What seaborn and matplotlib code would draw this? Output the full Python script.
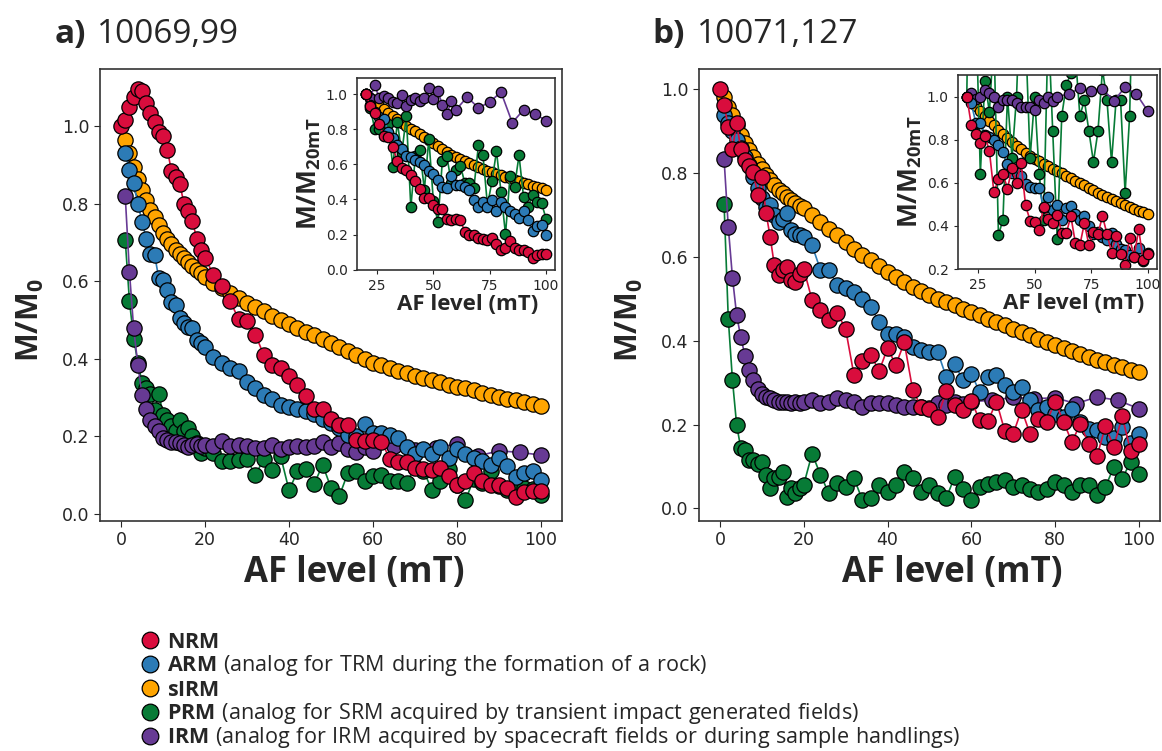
import numpy as np
import pandas as pd
import matplotlib
matplotlib.use("Agg")
import matplotlib.pyplot as plt
from matplotlib.lines import Line2D
import seaborn as sns

# AF steps (mT)
af_nrm = list(range(0, 21)) + list(range(22, 101, 2))
af_std = list(range(1, 21)) + list(range(22, 101, 2))
af_irm = list(range(1, 21)) + list(range(22, 61, 2)) + list(range(65, 101, 5))

# ---- sample 10069,99 ----
nrm_a = [1.0, 1.015, 1.05, 1.075, 1.095, 1.09, 1.06, 1.035, 1.01, 0.985, 0.975,
         0.94, 0.885, 0.87, 0.85, 0.80, 0.78, 0.755, 0.71, 0.68, 0.66,
         0.617, 0.587, 0.548, 0.502, 0.498, 0.462, 0.409, 0.383, 0.376, 0.356,
         0.333, 0.304, 0.271, 0.271, 0.244, 0.228, 0.228, 0.191, 0.188, 0.191,
         0.185, 0.142, 0.132, 0.132, 0.119, 0.116, 0.112, 0.119, 0.096, 0.073,
         0.083, 0.106, 0.083, 0.073, 0.073, 0.066, 0.043, 0.056, 0.059, 0.059]
arm_a = [0.93, 0.886, 0.853, 0.80, 0.753, 0.71, 0.671, 0.667, 0.607, 0.603,
         0.577, 0.547, 0.538, 0.504, 0.491, 0.482, 0.478, 0.448, 0.44, 0.431,
         0.405, 0.388, 0.375, 0.369, 0.339, 0.323, 0.306, 0.297, 0.28, 0.276,
         0.269, 0.265, 0.257, 0.243, 0.235, 0.22, 0.202, 0.2, 0.231, 0.208,
         0.208, 0.204, 0.196, 0.171, 0.155, 0.167, 0.155, 0.171, 0.143, 0.167,
         0.155, 0.143, 0.136, 0.126, 0.143, 0.122, 0.094, 0.106, 0.11, 0.086]
sirm_a = [0.965, 0.93, 0.895, 0.865, 0.835, 0.81, 0.785, 0.765, 0.745, 0.725,
          0.71, 0.695, 0.68, 0.67, 0.66, 0.65, 0.64, 0.63, 0.62, 0.61,
          0.596, 0.583, 0.57, 0.557, 0.545, 0.533, 0.522, 0.511, 0.5, 0.49,
          0.48, 0.47, 0.46, 0.45, 0.44, 0.43, 0.42, 0.41, 0.4, 0.39,
          0.383, 0.376, 0.369, 0.362, 0.355, 0.35, 0.344, 0.339, 0.333, 0.328,
          0.323, 0.318, 0.312, 0.307, 0.302, 0.297, 0.292, 0.287, 0.283, 0.278]
prm_a = [0.706, 0.549, 0.452, 0.39, 0.338, 0.324, 0.31, 0.268, 0.31, 0.255,
         0.242, 0.225, 0.212, 0.242, 0.212, 0.22, 0.2, 0.182, 0.156, 0.169,
         0.156, 0.135, 0.135, 0.139, 0.14, 0.099, 0.142, 0.112, 0.148, 0.06,
         0.109, 0.115, 0.077, 0.126, 0.066, 0.046, 0.105, 0.109, 0.083, 0.096,
         0.1, 0.083, 0.083, 0.079, 0.12, 0.11, 0.062, 0.085, 0.114, 0.075,
         0.034, 0.09, 0.08, 0.11, 0.07, 0.06, 0.072, 0.065, 0.064, 0.049]
irm_a = [0.819, 0.624, 0.478, 0.384, 0.306, 0.27, 0.242, 0.225, 0.212, 0.195,
         0.19, 0.186, 0.184, 0.182, 0.178, 0.173, 0.178, 0.18, 0.175, 0.178,
         0.174, 0.187, 0.174, 0.176, 0.174, 0.17, 0.169, 0.177, 0.166, 0.172,
         0.174, 0.171, 0.174, 0.184, 0.173, 0.181, 0.167, 0.158, 0.171, 0.162,
         0.175, 0.164, 0.17, 0.18, 0.149, 0.162, 0.158, 0.151]

# ---- sample 10071,127 ----
nrm_b = [1.0, 0.963, 0.911, 0.859, 0.919, 0.857, 0.831, 0.817, 0.803, 0.748, 0.79,
         0.706, 0.648, 0.58, 0.556, 0.568, 0.576, 0.546, 0.54, 0.56, 0.572,
         0.497, 0.473, 0.45, 0.467, 0.428, 0.318, 0.352, 0.367, 0.328, 0.382,
         0.343, 0.396, 0.283, 0.243, 0.238, 0.218, 0.28, 0.246, 0.236, 0.257,
         0.21, 0.209, 0.255, 0.184, 0.178, 0.236, 0.178, 0.213, 0.207, 0.255,
         0.207, 0.158, 0.202, 0.154, 0.125, 0.196, 0.147, 0.22, 0.137, 0.154]
arm_b = [0.94, 0.92, 0.90, 0.88, 0.86, 0.84, 0.82, 0.792, 0.764, 0.74,
         0.72, 0.724, 0.70, 0.684, 0.69, 0.704, 0.664, 0.656, 0.652, 0.648,
         0.628, 0.569, 0.57, 0.533, 0.525, 0.517, 0.501, 0.481, 0.445, 0.417,
         0.417, 0.409, 0.385, 0.377, 0.373, 0.373, 0.314, 0.345, 0.306, 0.321,
         0.278, 0.314, 0.318, 0.294, 0.278, 0.29, 0.258, 0.234, 0.242, 0.226,
         0.218, 0.238, 0.206, 0.19, 0.186, 0.171, 0.167, 0.194, 0.155, 0.178]
sirm_b = [0.982, 0.959, 0.939, 0.915, 0.891, 0.873, 0.855, 0.839, 0.823, 0.811,
          0.796, 0.784, 0.772, 0.761, 0.752, 0.744, 0.736, 0.728, 0.722, 0.716,
          0.70, 0.684, 0.668, 0.652, 0.636, 0.62, 0.605, 0.593, 0.578, 0.565,
          0.553, 0.541, 0.529, 0.519, 0.509, 0.501, 0.493, 0.485, 0.477, 0.469,
          0.461, 0.453, 0.445, 0.437, 0.429, 0.421, 0.413, 0.405, 0.397, 0.389,
          0.382, 0.375, 0.368, 0.361, 0.355, 0.349, 0.343, 0.337, 0.331, 0.326]
prm_b = [0.726, 0.453, 0.306, 0.199, 0.143, 0.139, 0.115, 0.115, 0.107, 0.111,
         0.08, 0.048, 0.072, 0.076, 0.088, 0.028, 0.048, 0.036, 0.048, 0.056,
         0.131, 0.08, 0.036, 0.06, 0.052, 0.072, 0.02, 0.024, 0.056, 0.04,
         0.056, 0.088, 0.072, 0.04, 0.056, 0.036, 0.024, 0.075, 0.047, 0.019,
         0.051, 0.059, 0.062, 0.067, 0.051, 0.055, 0.047, 0.039, 0.047, 0.063,
         0.055, 0.039, 0.055, 0.055, 0.031, 0.051, 0.099, 0.071, 0.111, 0.083]
irm_b = [0.833, 0.672, 0.551, 0.461, 0.408, 0.364, 0.33, 0.306, 0.286, 0.274,
         0.267, 0.263, 0.259, 0.255, 0.255, 0.255, 0.252, 0.255, 0.252, 0.255,
         0.259, 0.252, 0.255, 0.263, 0.259, 0.255, 0.243, 0.251, 0.251, 0.251,
         0.247, 0.243, 0.243, 0.243, 0.239, 0.251, 0.247, 0.254, 0.25, 0.255,
         0.258, 0.265, 0.262, 0.264, 0.25, 0.266, 0.258, 0.238]

colors = {"NRM": "#D90D3D", "ARM": "#2C7BB6", "sIRM": "#FFA500",
          "PRM": "#077B36", "IRM": "#673A94"}
draw_order = ["sIRM", "PRM", "IRM", "ARM", "NRM"]
legend_order = ["NRM", "ARM", "sIRM", "PRM", "IRM"]
legend_notes = {"NRM": "", "ARM": " (analog for TRM during the formation of a rock)",
                "sIRM": "",
                "PRM": " (analog for SRM acquired by transient impact generated fields)",
                "IRM": " (analog for IRM acquired by spacecraft fields or during sample handlings)"}


def build_frame(nrm, arm, sirm, prm, irm):
    parts = []
    for name, xs, ys in [("NRM", af_nrm, nrm), ("ARM", af_std, arm),
                         ("sIRM", af_std, sirm), ("PRM", af_std, prm),
                         ("IRM", af_irm, irm)]:
        parts.append(pd.DataFrame({"af": xs, "m": ys, "series": name}))
    return pd.concat(parts, ignore_index=True)


def inset_frame(frame):
    # same data normalised to the 20 mT step
    sub = frame[frame["af"] >= 20].copy()
    ref = sub[sub["af"] == 20].set_index("series")["m"]
    sub["m"] = sub["m"] / sub["series"].map(ref)
    return sub


def draw(ax, frame, ms, lw):
    sns.lineplot(data=frame, x="af", y="m", hue="series", hue_order=draw_order,
                 palette=colors, estimator=None, sort=False, marker="o",
                 markersize=ms, markeredgecolor="black", markeredgewidth=0.9,
                 linewidth=lw, legend=False, ax=ax)


sns.set_style("ticks")
plt.rcParams["font.family"] = ["DejaVu Sans"]
plt.rcParams["mathtext.fontset"] = "custom"
plt.rcParams["mathtext.rm"] = "Open Sans"
plt.rcParams["mathtext.bf"] = "Open Sans:bold"
plt.rcParams["axes.edgecolor"] = "#333333"
plt.rcParams["axes.linewidth"] = 1.2

label_font = {"family": "Open Sans", "weight": "bold"}

fig = plt.figure(figsize=(11.62, 7.51), dpi=100)

frames = [build_frame(nrm_a, arm_a, sirm_a, prm_a, irm_a),
          build_frame(nrm_b, arm_b, sirm_b, prm_b, irm_b)]
main_pos = [[0.0861, 0.3063, 0.3976, 0.6019], [0.6015, 0.3063, 0.3967, 0.6019]]
inset_pos = [[0.307, 0.6409, 0.1707, 0.2549], [0.8242, 0.6418, 0.1713, 0.2583]]
inset_ylim = [(0, 1.09), (0.2, 1.1)]
inset_xlabel_x = [0.56, 0.58]
titles = [("a)", "10069,99"), ("b)", "10071,127")]
title_x = [(55, 97), (652, 697)]

for i in range(2):
    ax = fig.add_axes(main_pos[i])
    draw(ax, frames[i], 11, 1.2)
    ax.set_xticks([0, 20, 40, 60, 80, 100])
    ax.set_yticks([0.0, 0.2, 0.4, 0.6, 0.8, 1.0])
    ax.tick_params(labelsize=12.5, length=4)
    ax.set_xlabel("AF level (mT)", fontsize=25, labelpad=4, **label_font)
    ax.xaxis.label.set_x(0.55)
    ax.set_ylabel(r"M/M$_\mathbf{0}$", fontsize=22, **label_font)
    ax.yaxis.set_label_coords(-0.118, 0.445)

    ins = fig.add_axes(inset_pos[i])
    draw(ins, inset_frame(frames[i]), 7.5, 1.2)
    ins.set_ylim(*inset_ylim[i])
    ins.set_xticks([25, 50, 75, 100])
    ins.set_yticks(np.arange(inset_ylim[i][0], 1.01, 0.2))
    ins.tick_params(labelsize=10, length=3)
    ins.set_xlabel("AF level (mT)", fontsize=16, labelpad=1, **label_font)
    ins.xaxis.label.set_x(inset_xlabel_x[i])
    ins.set_ylabel(r"M/M$_\mathbf{20mT}$", fontsize=19, labelpad=2, **label_font)

    fig.text(title_x[i][0] / 1162, 1 - 43 / 751, titles[i][0], fontsize=24,
             family="Open Sans", weight="bold", va="baseline")
    fig.text(title_x[i][1] / 1162, 1 - 43 / 751, titles[i][1], fontsize=24,
             family="Open Sans", va="baseline")

# key below the panels: one row per remanence type
for j, k in enumerate(legend_order):
    y_mid = 1 - (640 + 24 * j) / 751
    fig.add_artist(Line2D([150 / 1162], [y_mid], transform=fig.transFigure,
                          linestyle="none", marker="o", markersize=12,
                          markerfacecolor=colors[k], markeredgecolor="black",
                          markeredgewidth=0.9))
    note = legend_notes[k].replace(" ", r"\ ")
    label = r"$\mathbf{" + k + "}" + (r"\mathrm{" + note + "}" if note else "") + "$"
    fig.text(167 / 1162, y_mid - 7.5 / 751, label, fontsize=15.5, va="baseline")

fig.savefig("out.png", dpi=100)
